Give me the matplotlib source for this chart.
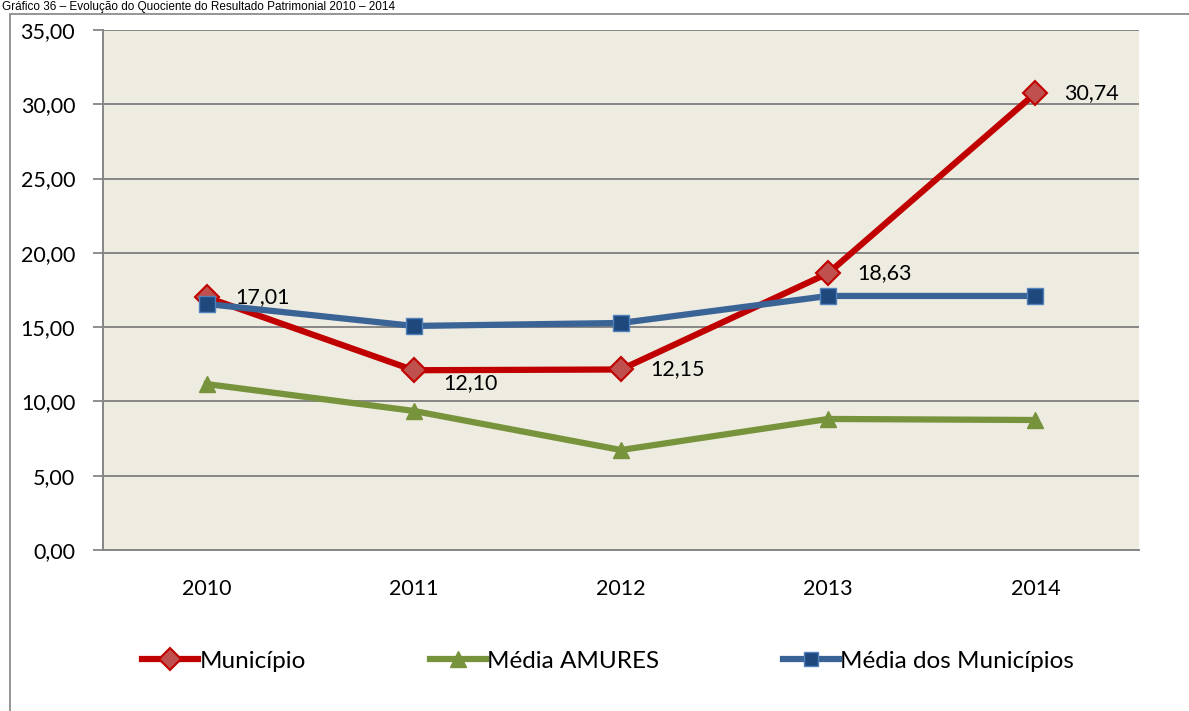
import matplotlib
matplotlib.use("Agg")
import matplotlib.pyplot as plt
from matplotlib.patches import Rectangle
from matplotlib.lines import Line2D

years = ["2010", "2011", "2012", "2013", "2014"]
municipio = [17.01, 12.10, 12.15, 18.63, 30.74]
media_amures = [11.17, 9.36, 6.73, 8.82, 8.75]
media_municipios = [16.56, 15.08, 15.28, 17.10, 17.10]
municipio_labels = ["17,01", "12,10", "12,15", "18,63", "30,74"]
y_ticks = [0, 5, 10, 15, 20, 25, 30, 35]
y_tick_labels = ["0,00", "5,00", "10,00", "15,00", "20,00", "25,00", "30,00", "35,00"]
series_names = ["Município", "Média AMURES", "Média dos Municípios"]

plt.rcParams['font.family'] = ['Lato', 'DejaVu Sans']

W, H = 1189, 711
fig = plt.figure(figsize=(W / 100, H / 100), dpi=100)
fig.patch.set_facecolor("white")

# outer chart border (clipped at right/bottom)
fig.patches.append(Rectangle((10 / W, -0.05), 1.2, 1 - 14 / H + 0.05,
                             transform=fig.transFigure, fill=False,
                             edgecolor="#8c8c8c", linewidth=1.3, zorder=0))

# title above the chart frame
fig.text(2 / W, 1 - 1 / H, "Gráfico 36 – Evolução do Quociente do Resultado Patrimonial 2010 – 2014",
         fontsize=8.5, ha="left", va="top", family=['Liberation Sans'])

ax = fig.add_axes([103 / W, 1 - 550 / H, (1139 - 103) / W, (550 - 30) / H])
ax.set_facecolor("#EEEBE0")
x = list(range(len(years)))

gray = "#868686"
fs = 15.5
ax.set_ylim(0, 35)
ax.set_xlim(-0.5, len(years) - 0.5)
ax.set_yticks(y_ticks)
ax.set_yticklabels(y_tick_labels, fontsize=fs)
ax.set_xticks(x)
ax.set_xticklabels(years, fontsize=fs)
ax.tick_params(axis="x", length=0, pad=21)
ax.tick_params(axis="y", length=7, width=1.3, color=gray, pad=13)
ax.grid(axis="y", color=gray, linewidth=1.4)
ax.set_axisbelow(True)
for s in ["top", "right"]:
    ax.spines[s].set_visible(False)
for s in ["left", "bottom"]:
    ax.spines[s].set_color(gray)
    ax.spines[s].set_linewidth(1.4)

red_line = dict(color="#C00000", linewidth=4.5, marker="D", markersize=12,
                markerfacecolor="#C0504D", markeredgecolor="#C00000", markeredgewidth=1.5)
green_line = dict(color="#77933C", linewidth=4.5, marker="^", markersize=12,
                  markerfacecolor="#77933C", markeredgecolor="#77933C")
blue_line = dict(color="#3A6396", linewidth=4.5, marker="s", markersize=11,
                 markerfacecolor="#1F497D", markeredgecolor="#4F81BD", markeredgewidth=1)

ax.plot(x, municipio, zorder=3, **red_line)
ax.plot(x, media_amures, zorder=3, **green_line)
ax.plot(x, media_municipios, zorder=4, **blue_line)

for i, (v, lab) in enumerate(zip(municipio, municipio_labels)):
    dy = -9 if i == 1 else 0
    ax.annotate(lab, (x[i], v), xytext=(21, dy), textcoords="offset points",
                ha="left", va="center", fontsize=fs, zorder=5)

leg_red = dict(red_line, markersize=11)
leg_green = dict(green_line, markersize=11)
leg_blue = dict(blue_line, markersize=10)
handles = [Line2D([], [], **leg_red), Line2D([], [], **leg_green), Line2D([], [], **leg_blue)]
fig.legend(handles, series_names, loc="center", bbox_to_anchor=(608 / W, 1 - 661 / H),
           ncol=3, frameon=False, fontsize=17.5, handlelength=2.3, handletextpad=0.05,
           columnspacing=5.1)

fig.savefig("out.png", dpi=100, facecolor="white")
